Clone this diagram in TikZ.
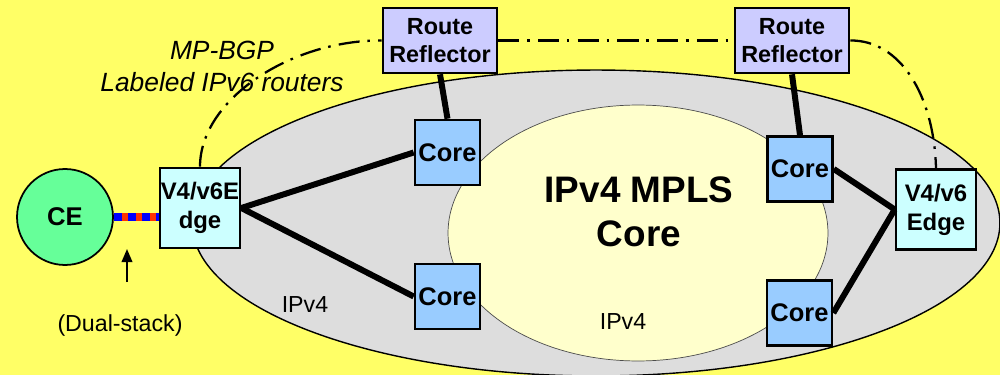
\documentclass[tikz,border=0pt]{standalone}
\usepackage{fontspec}
\setmainfont{Liberation Sans}
\usetikzlibrary{arrows.meta}
\definecolor{bgyellow}{HTML}{FFFF66}
\definecolor{outergray}{HTML}{DDDDDD}
\definecolor{innercream}{HTML}{FFFFCC}
\definecolor{corefill}{HTML}{99CCFF}
\definecolor{rrfill}{HTML}{CCCCFF}
\definecolor{edgefill}{HTML}{CCFFFF}
\definecolor{cefill}{HTML}{66FF99}
\definecolor{dsred}{HTML}{FF3300}
\definecolor{dsblue}{HTML}{0000FF}
\begin{document}
\begin{tikzpicture}[x=0.02cm,y=-0.02cm,
 boxbase/.style={draw=black, line width=1.5pt, inner sep=0pt, align=center, font=\bfseries\fontsize{13.6}{16.4}\selectfont},
 corebox/.style={boxbase, fill=corefill, minimum width=1.3cm, minimum height=1.3cm, font=\bfseries\fontsize{14.5}{17}\selectfont},
 rrbox/.style={boxbase, fill=rrfill, minimum width=2.28cm, minimum height=1.3cm, font=\bfseries\fontsize{13.3}{16}\selectfont},
 edgebox/.style={boxbase, fill=edgefill, minimum width=1.6cm, minimum height=1.6cm},
 cenode/.style={circle, draw=black, line width=1pt, fill=cefill, minimum size=1.92cm, inner sep=0pt, font=\bfseries\fontsize{14.6}{17}\selectfont},
 link/.style={line width=3.4pt},
 bgplabel/.style={font=\itshape\fontsize{15}{18.1}\selectfont, align=center, inner sep=0pt},
 plainlabel/.style={font=\fontsize{13.2}{16}\selectfont, inner sep=0pt},
 titlelabel/.style={font=\bfseries\fontsize{21}{25}\selectfont, align=center, inner sep=0pt},
 ibgp/.style={line width=1.3pt, dash pattern=on 12pt off 4.4pt on 1.5pt off 4.7pt}
]
\useasboundingbox (0,0) rectangle (1000,375);
\fill[bgyellow] (0,0) rectangle (1000,375);
% domains
\filldraw[fill=outergray, draw=black, line width=0.8pt] (596,223) ellipse [x radius=8.08cm, y radius=3.06cm];
\filldraw[fill=innercream, draw=black!70, line width=0.4pt] (638,233) ellipse [x radius=3.8cm, y radius=2.56cm];
% labels
\node[titlelabel] (title) at (639,211.5) {IPv4 MPLS\\Core};
\node[plainlabel] (ipv4outer) at (305,305) {IPv4};
\node[plainlabel] (ipv4inner) at (623,322) {IPv4};
\node[bgplabel] (bgplabel) at (222,66.5) {MP-BGP\\Labeled IPv6 routers};
\node[plainlabel] (dslabel) at (120,325) {(Dual-stack)};
% nodes
\node[cenode] (CE) at (65,217) {CE};
\node[edgebox] (LE) at (200,208) {V4/v6E\\dge};
\node[edgebox] (RE) at (936,209.5) {V4/v6\\Edge};
\node[corebox] (C1) at (447.5,152.5) {Core};
\node[corebox] (C2) at (447.5,296.5) {Core};
\node[corebox] (C3) at (800,169) {Core};
\node[corebox] (C4) at (799.5,313) {Core};
\node[rrbox] (RR1) at (440,40.5) {Route\\Reflector};
\node[rrbox] (RR2) at (792,40.5) {Route\\Reflector};
% links
\draw[link] (RR1.south) -- (C1.north);
\draw[link] (RR2.south) -- (C3.north);
\draw[link] (LE.east) -- (C1.west);
\draw[link] (LE.east) -- (C2.west);
\draw[link] (C3.east) -- (RE.west);
\draw[link] (C4.east) -- (RE.west);
% dual-stack access link
\draw[dsred, line width=4.5pt] (CE.east) -- (CE.east -| LE.west);
\draw[dsblue, line width=4.5pt, dash pattern=on 4.5pt off 3.5pt] (CE.east) -- (CE.east -| LE.west);
% arrow
\coordinate (arrtail) at (127,282);
\coordinate (arrtip) at (127,249);
\draw[line width=1.1pt, -{Triangle[length=7.4pt,width=6pt]}] (arrtail) -- (arrtip);
% MP-BGP sessions
\draw[ibgp] (LE.north) .. controls (200,100) and (290,40) .. (RR1.west);
\draw[ibgp] (RR1.east) -- (RR2.west);
\draw[ibgp] (RR2.east) .. controls (900,40) and (934,95) .. (RE.north);
\end{tikzpicture}
\end{document}
